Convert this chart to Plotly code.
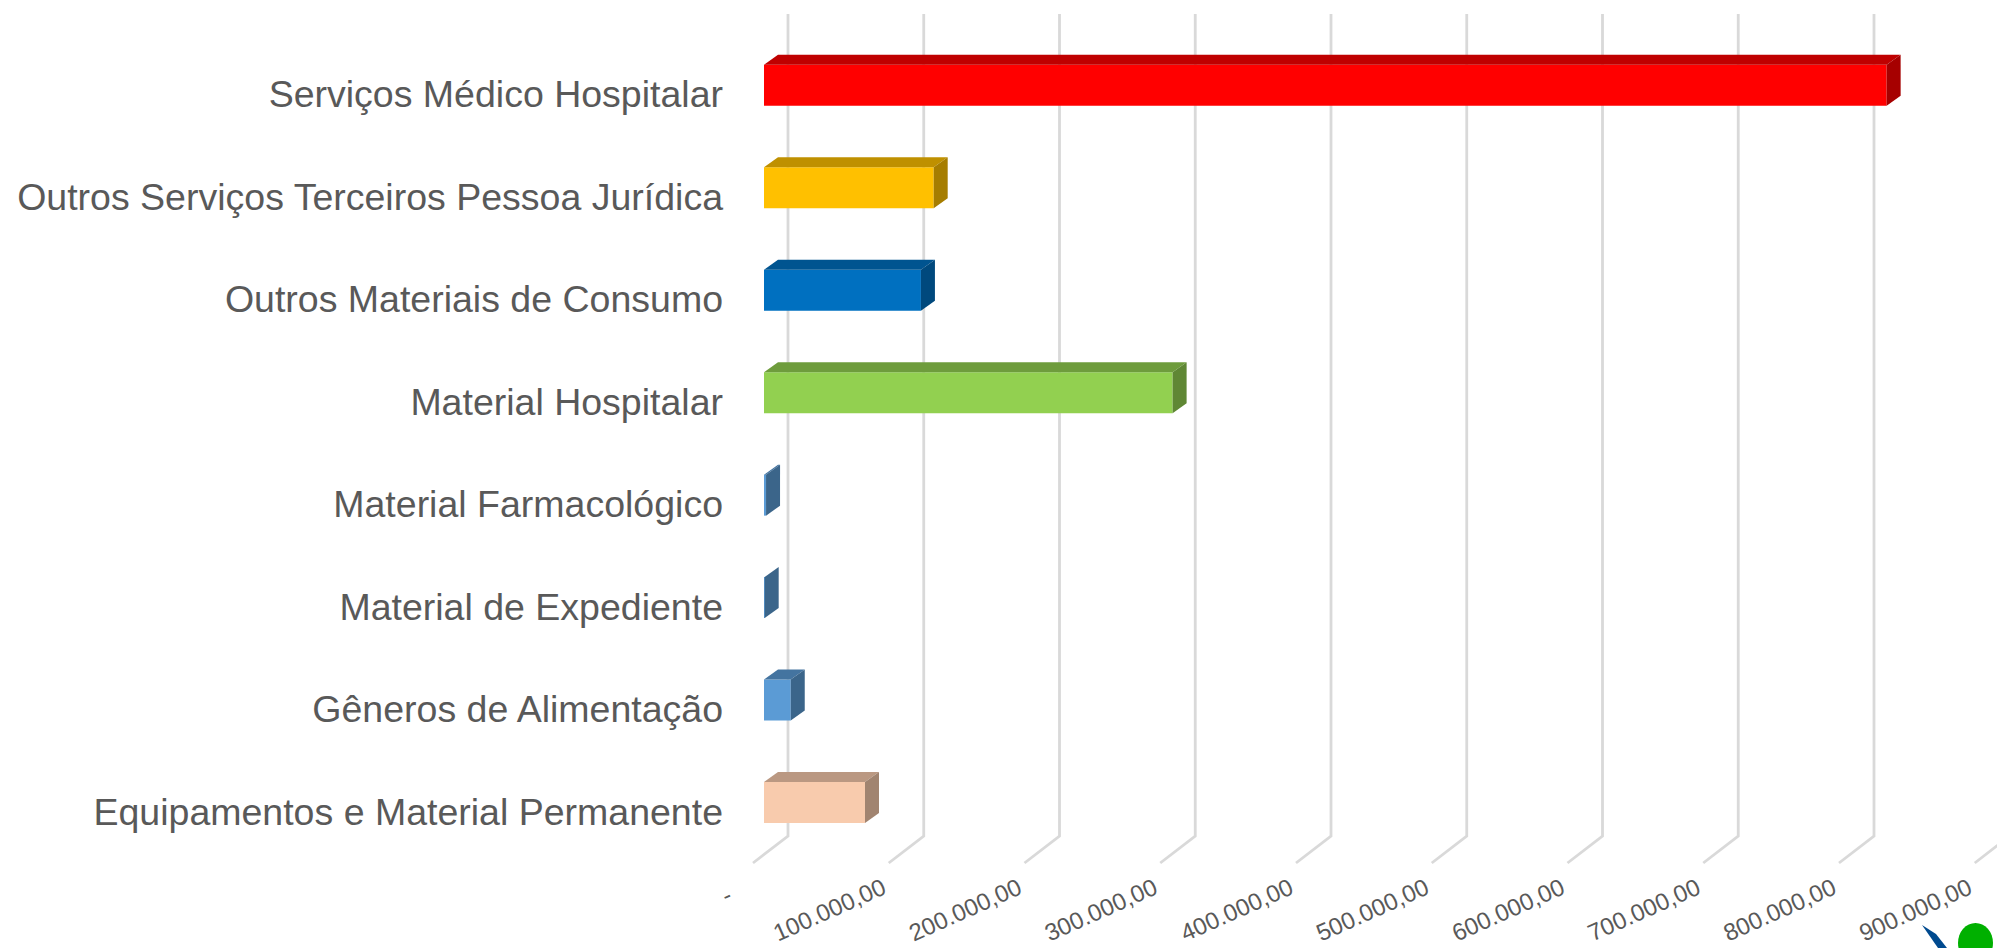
import plotly.graph_objects as go

categories = ["Equipamentos e Material Permanente", "Gêneros de Alimentação", "Material de Expediente",
              "Material Farmacológico", "Material Hospitalar", "Outros Materiais de Consumo",
              "Outros Serviços Terceiros Pessoa Jurídica", "Serviços Médico Hospitalar"]
values = [74400, 19700, 500, 1500, 301000, 115600, 125000, 827000]
front_colors = ["#F8CBAD", "#5B9BD5", "#5B9BD5", "#5B9BD5", "#92D050", "#0070C0", "#FFC000", "#FF0000"]
top_colors = ["#BA9882", "#4474A0", "#4474A0", "#4474A0", "#6E9C3C", "#005490", "#BF9000", "#BF0000"]
side_colors = ["#A18470", "#3B658A", "#3B658A", "#3B658A", "#5F8734", "#00497D", "#A67D00", "#A60000"]
tick_values = [0, 100000, 200000, 300000, 400000, 500000, 600000, 700000, 800000, 900000]
tick_labels = ["-\u00a0\u00a0\u00a0", "100.000,00", "200.000,00", "300.000,00", "400.000,00", "500.000,00",
               "600.000,00", "700.000,00", "800.000,00", "900.000,00"]

W, H = 1997, 948
PX_X = 135.75 / 100000          # pixels per value unit
PX_Y = 102.45                   # pixels per category slot
ZERO_X = 764                    # pixel of value 0 on the bars' front plane
SLOT0_Y = 812.5                 # pixel of the first category's label
LEFT = 730                      # left edge of the plot area

dx = lambda px: px / PX_X       # pixel distance -> value units
dy = lambda px: px / PX_Y       # pixel distance -> slot units

x_range = [(LEFT - ZERO_X) / PX_X, (W - ZERO_X) / PX_X]
y_range = [-(H - SLOT0_Y) / PX_Y, SLOT0_Y / PX_Y]

depth_x, depth_y = dx(14), dy(10)
bar_h = dy(41)
bar_shift = dy(10)

fig = go.Figure()
positions = list(range(len(categories)))

fig.add_trace(go.Bar(
    y=[p + bar_shift for p in positions], x=values, orientation="h", width=bar_h,
    marker=dict(color=front_colors, line=dict(width=0)), hoverinfo="skip", showlegend=False))

for p, v, tc, sc in zip(positions, values, top_colors, side_colors):
    yt = p + bar_shift + bar_h / 2
    yb = p + bar_shift - bar_h / 2
    fig.add_trace(go.Scatter(
        x=[0, depth_x, v + depth_x, v, 0], y=[yt, yt + depth_y, yt + depth_y, yt, yt],
        mode="lines", fill="toself", fillcolor=tc, line=dict(width=0), hoverinfo="skip", showlegend=False))
    fig.add_trace(go.Scatter(
        x=[v, v + depth_x, v + depth_x, v, v], y=[yt, yt + depth_y, yb + depth_y, yb, yt],
        mode="lines", fill="toself", fillcolor=sc, line=dict(width=0), hoverinfo="skip", showlegend=False))

# gridlines: floor diagonal and back-wall vertical, under the bars
floor_front_off, floor_back_off = dx(-11), dx(24)
label_off = dx(-17)
floor_front_y, floor_back_y = (SLOT0_Y - 863) / PX_Y, (SLOT0_Y - 836) / PX_Y
wall_top_y = (SLOT0_Y - 14) / PX_Y
shapes = []
for t in tick_values + [1000000]:
    x0, x1 = t + floor_front_off, t + floor_back_off
    shapes.append(dict(type="path", layer="below", xref="x", yref="y",
                       path=f"M{x0},{floor_front_y} L{x1},{floor_back_y} L{x1},{wall_top_y}",
                       line=dict(color="#D9D9D9", width=2.8)))

# partial logo at the bottom right corner
def px_path(pts):
    return "M" + " L".join(f"{a / W},{1 - b / H}" for a, b in pts) + " Z"
shapes.append(dict(type="path", xref="paper", yref="paper", fillcolor="#004A8F", line=dict(width=0),
                   path=px_path([(1922, 925), (1936, 934), (1947, 948), (1938, 948)])))
shapes.append(dict(type="circle", xref="paper", yref="paper", fillcolor="#00B000", line=dict(width=0),
                   x0=1958 / W, x1=1993 / W, y0=1 - 963 / H, y1=1 - 923 / H))

fig.update_layout(
    width=W, height=H, margin=dict(l=0, r=0, t=0, b=0, autoexpand=False), paper_bgcolor="white",
    plot_bgcolor="rgba(0,0,0,0)",
    showlegend=False, shapes=shapes, font=dict(family="Liberation Sans, Arial", color="#595959"),
    xaxis=dict(domain=[LEFT / W, 1], range=x_range, showgrid=False, zeroline=False, showline=False,
               anchor="free", position=1 - 869 / H, tickmode="array", automargin=False,
               tickvals=[t + label_off for t in tick_values], ticktext=tick_labels,
               tickangle=-24, tickfont=dict(size=24, color="#595959"), ticks="", fixedrange=True),
    yaxis=dict(domain=[0, 1], range=y_range, showgrid=False, zeroline=False, showline=False,
               tickmode="array", tickvals=[p + dy(1) for p in positions], ticktext=categories,
               automargin=False, tickfont=dict(size=37.5, color="#595959"), ticks="", ticklen=0,
               ticklabelstandoff=6, fixedrange=True),
)

fig.write_html("out.html", config=dict(displayModeBar=False),
               post_script="document.body.style.margin='0';document.body.style.overflow='hidden';")
